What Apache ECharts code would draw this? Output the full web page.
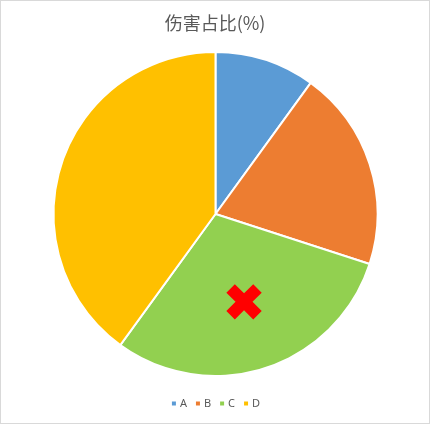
<!DOCTYPE html>
<html><head><meta charset="utf-8">
<script src="https://cdn.jsdelivr.net/npm/echarts@6/dist/echarts.min.js"></script>
<style>html,body{margin:0;padding:0;background:#fff;}#c{width:428px;height:422px;border:1px solid #d9d9d9;}</style>
</head><body><div id="c"></div>
<script>
var categories = ['A','B','C','D'];
var values = [10,20,30,40];
var colors = ['#5B9BD5','#ED7D31','#92D050','#FFC000'];
var markedCategory = 'C';

var chart = echarts.init(document.getElementById('c'));
var cx = 214.5, cy = 213, R = 162;
var total = values.reduce(function(a,b){return a+b;},0);
var idx = categories.indexOf(markedCategory);
var before = 0; for (var i=0;i<idx;i++) before += values[i];
var midFrac = (before + values[idx]/2)/total;
var ang = midFrac*2*Math.PI;
var rr = R*0.57;
var mx = cx + rr*Math.sin(ang), my = cy - rr*Math.cos(ang);

var a = 19, w = 6, pts = [];
var base = [[-w,-a],[w,-a],[w,-w],[a,-w],[a,w],[w,w],[w,a],[-w,a],[-w,w],[-a,w],[-a,-w],[-w,-w]];
var c45 = Math.SQRT1_2;
base.forEach(function(p){ pts.push([mx + (p[0]-p[1])*c45, my + (p[0]+p[1])*c45]); });

chart.setOption({
  animation:false,
  color: colors,
  title:{text:'伤害占比(%)', left:'center', top:8, textStyle:{color:'#595959', fontSize:18, fontWeight:'normal', fontFamily:'Noto Sans CJK SC'}},
  legend:{bottom:9, left:'center', itemWidth:6, itemHeight:6, itemGap:7, icon:'rect', textStyle:{color:'#595959', fontSize:11, fontFamily:'Noto Sans', padding:[0,0,0,-2]}, data:categories},
  series:[{
    type:'pie', startAngle:90, clockwise:true,
    center:[cx, cy], radius:[0, R],
    label:{show:false}, labelLine:{show:false},
    itemStyle:{borderColor:'#fff', borderWidth:2},
    emphasis:{disabled:true},
    data: categories.map(function(c,i){return {name:c, value:values[i]};})
  }],
  graphic:{elements:[{
    type:'polygon', z:100, silent:true,
    shape:{points:pts}, style:{fill:'#FF0000'}
  }]}
});
</script></body></html>
